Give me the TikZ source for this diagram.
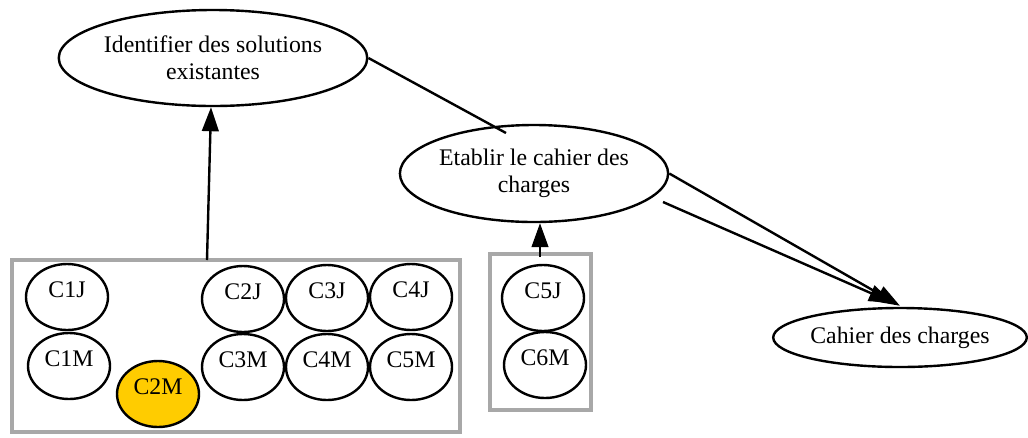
\documentclass[tikz,border=0pt]{standalone}
\usepackage{fontspec}
\setmainfont{Liberation Serif}
\usetikzlibrary{shapes.geometric,arrows.meta,calc}
\definecolor{boxgrey}{HTML}{A8A8A8}
\definecolor{goldfill}{HTML}{FFCC00}
\begin{document}
\begin{tikzpicture}[x=0.75pt,y=-0.75pt,
  every node/.style={font=\fontsize{17.85pt}{20.25pt}\selectfont},
  task/.style={ellipse, draw, line width=1.8pt, inner sep=0pt, align=center, minimum width=189pt},
  comp/.style={ellipse, draw, line width=1.8pt, inner sep=0pt, minimum width=61.5pt, minimum height=49.5pt},
  gbox/.style={rectangle, draw=boxgrey, line width=3.2pt, inner sep=0pt},
  arr/.style={-{Triangle[length=18pt,width=12.5pt]}, line width=1.8pt},
  link/.style={line width=1.8pt}]
\useasboundingbox (0,0) rectangle (1028,437);

% groups
\node[gbox, minimum width=336pt, minimum height=129pt] (b1) at (236,346) {};
\node[gbox, minimum width=75.75pt, minimum height=117pt] (b2) at (540.5,332) {};

% task ellipses
\node[task, minimum height=72pt] (ident) at (213,58) {Identifier des solutions\\existantes};
\node[task, minimum height=72.75pt] (etab) at (534,173.5) {Etablir le cahier des\\charges};
\node[task, minimum height=44.25pt] (cahier) at (900,337.5) {Cahier des charges};

% competences
\node[comp] (c1j) at (67,297) {\smash{C1J}};
\node[comp] (c1m) at (69,366) {\smash{C1M}};
\node[comp, fill=goldfill] (c2m) at (158,394) {\smash{C2M}};
\node[comp] (c2j) at (243,299) {\smash{C2J}};
\node[comp] (c3j) at (327,298) {\smash{C3J}};
\node[comp] (c4j) at (411,297) {\smash{C4J}};
\node[comp] (c3m) at (243,367) {\smash{C3M}};
\node[comp] (c4m) at (327,367) {\smash{C4M}};
\node[comp] (c5m) at (411,367) {\smash{C5M}};
\node[comp] (c5j) at (543,298) {\smash{C5J}};
\node[comp] (c6m) at (545,365) {\smash{C6M}};

% connectors
\coordinate (a1s) at (207,260);
\draw[arr] (a1s) -- (ident.south -| 211,0);
\coordinate (a2s) at (540,257);
\draw[arr] (a2s) -- (a2s |- etab.south);
\coordinate (l1e) at (506,133);
\draw[link] (ident.east) -- (l1e);
\draw[arr] (etab.east) -- ($(cahier.north)+(0,-1)$);
\coordinate (a4s) at (663,202);
\draw[arr] (a4s) -- ($(cahier.north)+(-7,-4)$);
\end{tikzpicture}
\end{document}
